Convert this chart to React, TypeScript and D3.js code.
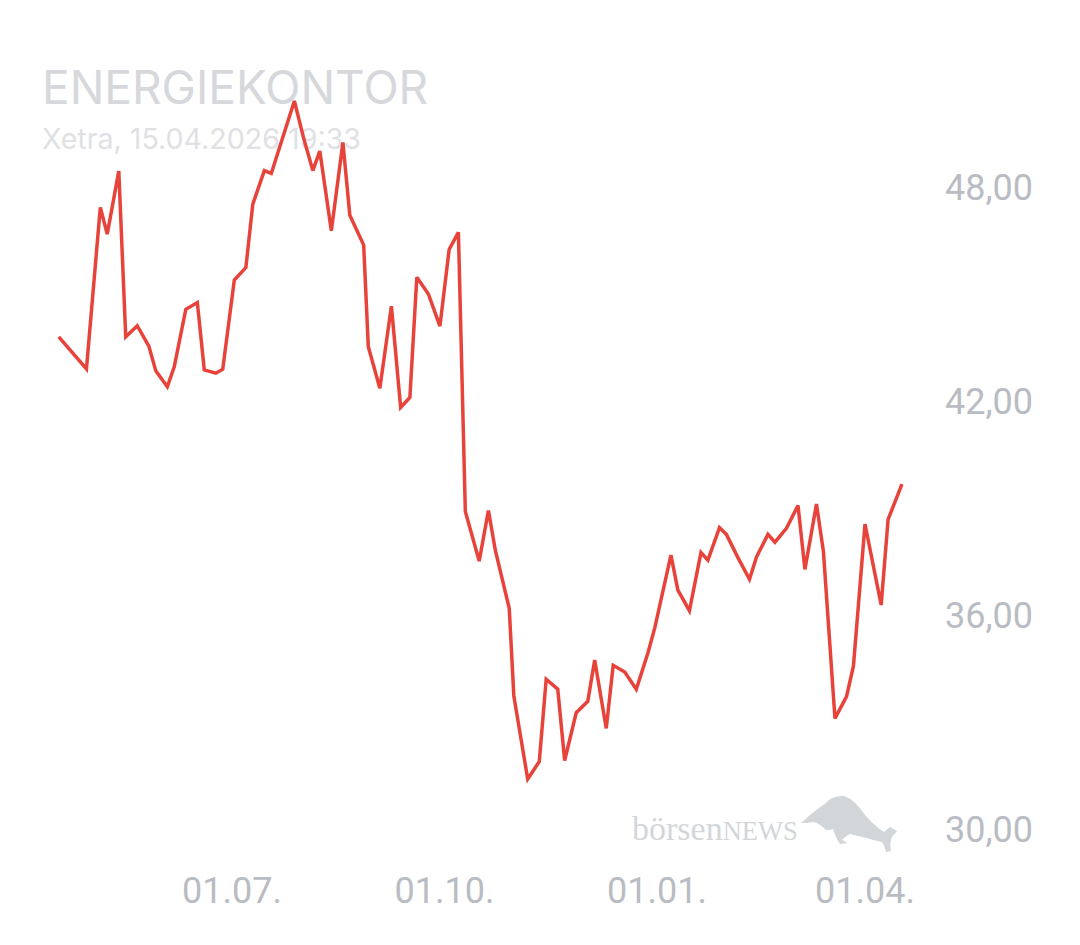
import { useEffect, useRef } from "react";
import * as d3 from "d3";

// closing prices
const dates = [
  "2025-04-17", "2025-04-29", "2025-05-05", "2025-05-08", "2025-05-13", "2025-05-16",
  "2025-05-21", "2025-05-26", "2025-05-29", "2025-06-03", "2025-06-06", "2025-06-11",
  "2025-06-16", "2025-06-19", "2025-06-24", "2025-06-27", "2025-07-02", "2025-07-07",
  "2025-07-10", "2025-07-15", "2025-07-18", "2025-07-28", "2025-08-01", "2025-08-05",
  "2025-08-08", "2025-08-13", "2025-08-18", "2025-08-21", "2025-08-27", "2025-08-29",
  "2025-09-03", "2025-09-08", "2025-09-12", "2025-09-16", "2025-09-19", "2025-09-24",
  "2025-09-29", "2025-10-03", "2025-10-07", "2025-10-10", "2025-10-16", "2025-10-20",
  "2025-10-23", "2025-10-29", "2025-10-31", "2025-11-06", "2025-11-11", "2025-11-14",
  "2025-11-19", "2025-11-22", "2025-11-27", "2025-12-02", "2025-12-05", "2025-12-10",
  "2025-12-13", "2025-12-18", "2025-12-23", "2025-12-28", "2025-12-31", "2026-01-07",
  "2026-01-10", "2026-01-15", "2026-01-20", "2026-01-23", "2026-01-28", "2026-01-31",
  "2026-02-05", "2026-02-10", "2026-02-13", "2026-02-18", "2026-02-21", "2026-02-26",
  "2026-03-03", "2026-03-06", "2026-03-11", "2026-03-14", "2026-03-19", "2026-03-24",
  "2026-03-27", "2026-04-01", "2026-04-08", "2026-04-11", "2026-04-17",
];

const prices = [
  43.8, 42.9, 47.43, 46.68, 48.45, 43.8,
  44.11, 43.54, 42.85, 42.4, 42.96, 44.57,
  44.76, 42.87, 42.78, 42.89, 45.39, 45.74,
  47.52, 48.46, 48.38, 50.41, 49.37, 48.46,
  49.01, 46.77, 49.25, 47.21, 46.37, 43.52,
  42.36, 44.66, 41.82, 42.1, 45.47, 45.0,
  44.1, 46.25, 46.73, 38.9, 37.51, 38.93,
  37.81, 36.19, 33.73, 31.4, 31.89, 34.2,
  33.92, 31.92, 33.26, 33.58, 34.74, 32.82,
  34.59, 34.4, 33.92, 34.93, 35.64, 37.68,
  36.7, 36.12, 37.75, 37.54, 38.45, 38.26,
  37.61, 37.0, 37.62, 38.26, 38.04, 38.43,
  39.07, 37.28, 39.11, 37.78, 33.1, 33.71,
  34.57, 38.55, 36.28, 38.68, 39.67,
];

const yTicks = [30, 36, 42, 48];
const xTicks = ["2025-07-01", "2025-10-01", "2026-01-01", "2026-04-01"];

const title = "ENERGIEKONTOR";
const subtitle = "Xetra, 15.04.2026 19:33";

const W = 1080;
const H = 945;

export default function App() {
  const svgRef = useRef<SVGSVGElement>(null);

  useEffect(() => {
    document.body.style.margin = "0";
    if (!svgRef.current) return;
    const svg = d3.select(svgRef.current);
    svg.selectAll("*").remove();

    const parse = d3.timeParse("%Y-%m-%d");
    const data = dates.map((d, i) => ({ date: parse(d) as Date, value: prices[i] }));

    const x = d3
      .scaleTime()
      .domain([parse("2025-07-01") as Date, parse("2026-04-01") as Date])
      .range([232, 865]);

    const y = d3.scaleLinear().domain([30, 48]).range([829, 187]);

    const fmt = (v: number) => v.toFixed(2).replace(".", ",");
    const fmtDate = d3.timeFormat("%d.%m.");

    // header
    svg
      .append("text")
      .attr("x", 42)
      .attr("y", 104)
      .attr("font-family", "Inter, 'Noto Sans', sans-serif")
      .attr("font-size", 46)
      .attr("fill", "#d6d8dc")
      .text(title);

    svg
      .append("text")
      .attr("x", 42)
      .attr("y", 149)
      .attr("font-family", "Inter, 'Noto Sans', sans-serif")
      .attr("font-size", 28.6)
      .attr("fill", "#dfe1e4")
      .text(subtitle);

    // watermark
    const wm = svg.append("g").attr("fill", "#d3d6d9");
    const wt = wm
      .append("text")
      .attr("x", 632)
      .attr("y", 840)
      .attr("font-family", "'Liberation Serif', 'DejaVu Serif', serif")
      .attr("font-size", 34);
    wt.append("tspan").text("börsen");
    wt.append("tspan").attr("font-size", 26.5).text("NEWS");
    wm.append("path").attr(
      "d",
      "M801,823 L810,815 C816,810 822,806 826,803 C830,798 836,796 843,796 " +
        "C850,797 856,803 862,811 C868,819 876,827 884,832 L890,827 L897,831 L892,837 " +
        "C890,841 890,846 891,851 L886,852 C885,848 884,845 882,842 C876,841 868,838 858,836 " +
        "L850,834 C846,836 844,838 842,840 L848,843 L840,844 C837,840 835,835 833,829 " +
        "C830,830 828,830 826,830 C822,826 818,823 813,822 C809,823 805,823 801,823 Z"
    );

    // y axis labels on the right
    svg
      .append("g")
      .selectAll("text")
      .data(yTicks)
      .enter()
      .append("text")
      .attr("x", 1033)
      .attr("y", (d) => y(d))
      .attr("dy", "0.36em")
      .attr("text-anchor", "end")
      .attr("font-family", "Roboto, sans-serif")
      .attr("font-size", 36)
      .attr("fill", "#b9bcc2")
      .text((d) => fmt(d));

    // x axis labels
    svg
      .append("g")
      .selectAll("text")
      .data(xTicks)
      .enter()
      .append("text")
      .attr("x", (d) => x(parse(d) as Date))
      .attr("y", 903)
      .attr("text-anchor", "middle")
      .attr("font-family", "Roboto, sans-serif")
      .attr("font-size", 36)
      .attr("fill", "#b9bcc2")
      .text((d) => fmtDate(parse(d) as Date));

    // price line
    const line = d3
      .line<{ date: Date; value: number }>()
      .x((d) => x(d.date))
      .y((d) => y(d.value));

    svg
      .append("path")
      .datum(data)
      .attr("d", line)
      .attr("fill", "none")
      .attr("stroke", "#e8433a")
      .attr("stroke-width", 3.5)
      .attr("stroke-linejoin", "miter")
      .attr("stroke-miterlimit", 3);
  }, []);

  return (
    <div style={{ width: W, height: H, background: "#fff" }}>
      <svg ref={svgRef} width={W} height={H} viewBox={`0 0 ${W} ${H}`} />
    </div>
  );
}
